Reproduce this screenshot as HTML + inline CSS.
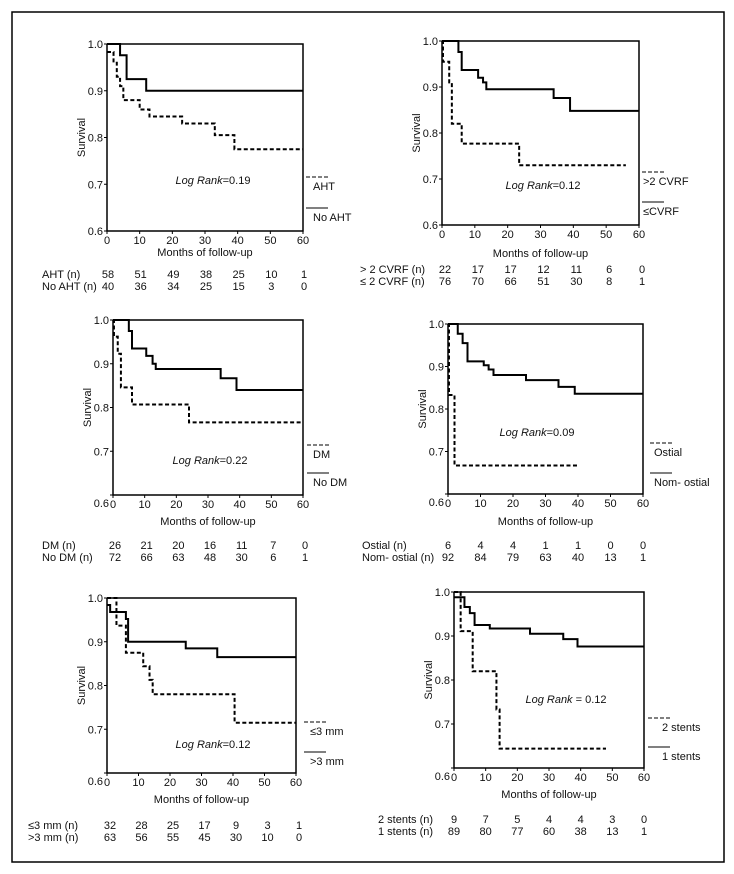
<!DOCTYPE html>
<html><head><meta charset="utf-8">
<style>
html,body{margin:0;padding:0;background:#fff;}
svg{display:block;font-family:"Liberation Sans",sans-serif;}
text{fill:#111;}
</style></head>
<body>
<svg id="fig" width="734" height="874" viewBox="0 0 734 874">
<rect x="12" y="12" width="712" height="850" fill="none" stroke="#000" stroke-width="1.5"/>
</svg>
<script>
// ---- data ----
const xTicks = [0,10,20,30,40,50,60];
const yTicks = [0.6,0.7,0.8,0.9,1.0];
const yTickLabels = ["0.6","0.7","0.8","0.9","1.0"];

const p1DashT = [0,2,3,4,5,10,13,23,33,39,60];
const p1DashS = [0.983,0.96,0.93,0.91,0.88,0.86,0.845,0.83,0.805,0.775,0.775];
const p1SolidT = [0,4,6,12,60];
const p1SolidS = [1,0.976,0.925,0.9,0.9];
const p1Risk1 = ["58","51","49","38","25","10","1"];
const p1Risk2 = ["40","36","34","25","15","3","0"];

const p2DashT = [0,0.3,2.2,3,6,23.5,56];
const p2DashS = [1,0.955,0.91,0.82,0.777,0.73,0.73];
const p2SolidT = [0,5,6,11,12.5,13.5,34,39,60];
const p2SolidS = [1,0.976,0.937,0.92,0.91,0.895,0.876,0.848,0.848];
const p2Risk1 = ["22","17","17","12","11","6","0"];
const p2Risk2 = ["76","70","66","51","30","8","1"];

const p3DashT = [0,0.3,1.5,2.5,6,24,60];
const p3DashS = [1,0.962,0.923,0.846,0.807,0.766,0.766];
const p3SolidT = [0,5,6,10.5,12.5,13.5,34,39,60];
const p3SolidS = [1,0.975,0.935,0.918,0.9,0.888,0.867,0.84,0.84];
const p3Risk1 = ["26","21","20","16","11","7","0"];
const p3Risk2 = ["72","66","63","48","30","6","1"];

const p4DashT = [0,0.3,2,40];
const p4DashS = [1,0.833,0.667,0.667];
const p4SolidT = [0,3,4.5,6,11,12.5,14,24,34,39,60];
const p4SolidS = [1,0.977,0.955,0.912,0.903,0.893,0.88,0.868,0.852,0.836,0.836];
const p4Risk1 = ["6","4","4","1","1","0","0"];
const p4Risk2 = ["92","84","79","63","40","13","1"];

const p5DashT = [0,3,6,11.5,13.5,14.5,40.5,60];
const p5DashS = [1,0.937,0.875,0.844,0.813,0.78,0.715,0.715];
const p5SolidT = [0,1,6,6.7,25,35,60];
const p5SolidS = [0.984,0.968,0.952,0.9,0.885,0.865,0.865];
const p5Risk1 = ["32","28","25","17","9","3","1"];
const p5Risk2 = ["63","56","55","45","30","10","0"];

const p6DashT = [0,2.1,5.9,13.4,14.4,48];
const p6DashS = [1,0.911,0.82,0.733,0.644,0.644];
const p6SolidT = [0,3.3,5,6.5,11.3,24,34.5,39,60];
const p6SolidS = [0.988,0.966,0.952,0.925,0.917,0.905,0.893,0.876,0.876];
const p6Risk1 = ["9","7","5","4","4","3","0"];
const p6Risk2 = ["89","80","77","60","38","13","1"];

// ---- drawing ----
const svg = document.getElementById('fig');
const NS = 'http://www.w3.org/2000/svg';
function mk(tag, attrs, txt){
  const e = document.createElementNS(NS, tag);
  for (const k in attrs) e.setAttribute(k, attrs[k]);
  if (txt !== undefined) e.textContent = txt;
  svg.appendChild(e);
  return e;
}
function stepPath(T, S, xs, ys){
  let d = 'M' + xs(T[0]) + ',' + ys(S[0]);
  for (let i = 1; i < T.length; i++){
    d += ' H' + xs(T[i]) + ' V' + ys(S[i]);
  }
  return d;
}
function panel(cfg){
  const {id,x0,x1,y0,y1} = cfg;
  const xs = v => x0 + (x1 - x0) * v / 60;
  const ys = v => y1 - (y1 - y0) * (v - 0.6) / 0.4;
  const ax = mk('path',{d:`M${x0},${y0} V${y1} H${x1} V${y0} H${x0}`,fill:'none',stroke:'#000','stroke-width':1.5});
  
  
  yTicks.forEach((v,i)=>{
    const t = mk('line',{x1:x0-3,x2:x0,y1:ys(v),y2:ys(v),stroke:'#000'});
    
    
    const l = mk('text',{x:x0-4,y:ys(v)+ (i===0 && cfg.lowLab ? 12 : 4),'font-size':11,'text-anchor':'end'}, yTickLabels[i]);
    
    
  });
  xTicks.forEach(v=>{
    const t = mk('line',{x1:xs(v),x2:xs(v),y1:y1,y2:y1+3,stroke:'#000'});
    
    
    const l = mk('text',{x:xs(v),y:y1+13,'font-size':11,'text-anchor':'middle'}, String(v));
    
    
  });
  const xt = mk('text',{x:(x0+x1)/2,y:y1+cfg.xtOff,'font-size':11,'text-anchor':'middle'},'Months of follow-up');
  
  
  const yt = mk('text',{x:0,y:0,'font-size':11,'text-anchor':'middle',transform:`translate(${x0-22},${(y0+y1)/2}) rotate(-90)`},'Survival');
  
  
  const sp = mk('path',{d:stepPath(cfg.solidT,cfg.solidS,xs,ys),fill:'none',stroke:'#000','stroke-width':2});
  
  
  const dp = mk('path',{d:stepPath(cfg.dashT,cfg.dashS,xs,ys),fill:'none',stroke:'#000','stroke-width':2,'stroke-dasharray':'4,2.5'});
  
  
  const lr = mk('text',{x:cfg.lr[0],y:cfg.lr[1],'font-size':11,'text-anchor':'middle'});
  
  
  const it = document.createElementNS(NS,'tspan'); it.setAttribute('font-style','italic'); it.textContent = 'Log Rank'; lr.appendChild(it);
  const vt = document.createElementNS(NS,'tspan'); vt.textContent = cfg.lrVal; lr.appendChild(vt);
  const L = cfg.leg;
  const l1 = mk('line',{x1:L.x,x2:L.x+22,y1:L.y1,y2:L.y1,stroke:'#000','stroke-dasharray':'4,2'});
  
  
  const t1 = mk('text',{x:L.tx,y:L.y1+13,'font-size':11},L.n1);
  
  
  const l2 = mk('line',{x1:L.x,x2:L.x+22,y1:L.y2,y2:L.y2,stroke:'#000'});
  
  
  const t2 = mk('text',{x:L.tx,y:L.y2+13,'font-size':11},L.n2);
  
  
  const R = cfg.risk;
  [[R.l1,R.v1,R.y],[R.l2,R.v2,R.y+12]].forEach(([lab,vals,yy])=>{
    const rl = mk('text',{x:R.lx,y:yy,'font-size':11},lab);
    
    
    vals.forEach((v,i)=>{
      const c = mk('text',{x:xs(xTicks[i])+R.off,y:yy,'font-size':11,'text-anchor':'middle'},v);
      
      
    });
  });
}

panel({id:'aht',x0:107,x1:303,y0:44,y1:231,xtOff:25,lowLab:false,
  solidT:p1SolidT,solidS:p1SolidS,dashT:p1DashT,dashS:p1DashS,lr:[213,184],lrVal:'=0.19',
  leg:{x:306,tx:313,y1:177,y2:208,n1:'AHT',n2:'No AHT'},
  risk:{lx:42,y:278,l1:'AHT (n)',l2:'No AHT (n)',v1:p1Risk1,v2:p1Risk2,off:1}});
panel({id:'cvrf',x0:442,x1:639,y0:41,y1:225,xtOff:32,lowLab:false,
  solidT:p2SolidT,solidS:p2SolidS,dashT:p2DashT,dashS:p2DashS,lr:[543,189],lrVal:'=0.12',
  leg:{x:642,tx:643,y1:172,y2:202,n1:'>2 CVRF',n2:'\u2264CVRF'},
  risk:{lx:360,y:273,l1:'> 2 CVRF (n)',l2:'\u2264 2 CVRF (n)',v1:p2Risk1,v2:p2Risk2,off:3}});
panel({id:'dm',x0:113,x1:303,y0:320,y1:495,xtOff:30,lowLab:true,
  solidT:p3SolidT,solidS:p3SolidS,dashT:p3DashT,dashS:p3DashS,lr:[210,464],lrVal:'=0.22',
  leg:{x:307,tx:313,y1:445,y2:473,n1:'DM',n2:'No DM'},
  risk:{lx:42,y:549,l1:'DM (n)',l2:'No DM (n)',v1:p3Risk1,v2:p3Risk2,off:2}});
panel({id:'ostial',x0:448,x1:643,y0:324,y1:494,xtOff:31,lowLab:true,
  solidT:p4SolidT,solidS:p4SolidS,dashT:p4DashT,dashS:p4DashS,lr:[537,436],lrVal:'=0.09',
  leg:{x:650,tx:654,y1:443,y2:473,n1:'Ostial',n2:'Nom- ostial'},
  risk:{lx:362,y:549,l1:'Ostial (n)',l2:'Nom- ostial (n)',v1:p4Risk1,v2:p4Risk2,off:0}});
panel({id:'diameter',x0:107,x1:296,y0:598,y1:773,xtOff:30,lowLab:true,
  solidT:p5SolidT,solidS:p5SolidS,dashT:p5DashT,dashS:p5DashS,lr:[213,748],lrVal:'=0.12',
  leg:{x:304,tx:310,y1:722,y2:752,n1:'\u22643 mm',n2:'>3 mm'},
  risk:{lx:28,y:829,l1:'\u22643 mm (n)',l2:'>3 mm (n)',v1:p5Risk1,v2:p5Risk2,off:3}});
panel({id:'stents',x0:454,x1:644,y0:592,y1:768,xtOff:30,lowLab:true,
  solidT:p6SolidT,solidS:p6SolidS,dashT:p6DashT,dashS:p6DashS,lr:[566,703],lrVal:' = 0.12',
  leg:{x:648,tx:662,y1:718,y2:747,n1:'2 stents',n2:'1 stents'},
  risk:{lx:378,y:823,l1:'2 stents (n)',l2:'1 stents (n)',v1:p6Risk1,v2:p6Risk2,off:0}});
</script>
</body></html>
